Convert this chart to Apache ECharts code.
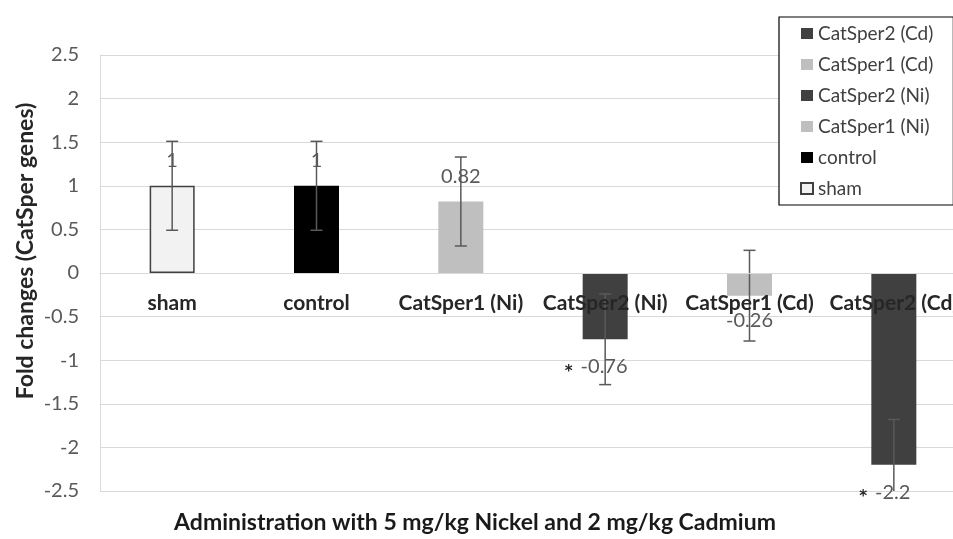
<!DOCTYPE html>
<html>
<head>
<meta charset="utf-8">
<script src="https://cdn.jsdelivr.net/npm/echarts@6/dist/echarts.min.js"></script>
<style>
html,body{margin:0;padding:0;background:#fff;}
#chart{width:953px;height:539px;}
</style>
</head>
<body>
<div id="chart"></div>
<script>
const categories = ['sham', 'control', 'CatSper1 (Ni)', 'CatSper2 (Ni)', 'CatSper1 (Cd)', 'CatSper2 (Cd)'];
const values = [1, 1, 0.82, -0.76, -0.26, -2.2];
const errors = [0.51, 0.51, 0.51, 0.52, 0.52, 0.52];
const marks = ['', '', '', '*', '', '*'];
const legendOrder = ['CatSper2 (Cd)', 'CatSper1 (Cd)', 'CatSper2 (Ni)', 'CatSper1 (Ni)', 'control', 'sham'];
const yMin = -2.5, yMax = 2.5, yStep = 0.5;
const yTitle = 'Fold changes (CatSper genes)';
const xTitle = 'Administration with 5 mg/kg Nickel and 2 mg/kg Cadmium';

const FONT = 'Lato';
const W = 953, H = 539;
const GRID = { left: 100, right: -13, top: 55, bottom: 48 };
const plotH = H - GRID.top - GRID.bottom;
const zeroOffset = -plotH * (0 - yMin) / (yMax - yMin);

const colors = {
  'sham': '#f2f2f2',
  'control': '#000000',
  'CatSper1 (Ni)': '#bfbfbf',
  'CatSper2 (Ni)': '#404040',
  'CatSper1 (Cd)': '#bfbfbf',
  'CatSper2 (Cd)': '#404040'
};

const chart = echarts.init(document.getElementById('chart'));

const barSeries = categories.map((name, i) => ({
  name: name,
  type: 'bar',
  stack: 'all',
  barWidth: 45,
  z: 2,
  itemStyle: name === 'sham'
    ? { color: colors[name], borderColor: '#404040', borderWidth: 1.5 }
    : { color: colors[name] },
  data: values.map((v, j) => j === i ? {
    value: v,
    label: {
      show: true,
      position: v >= 0 ? 'top' : 'bottom',
      distance: 15,
      offset: marks[j] ? [-9, 0] : [0, 0],
      formatter: marks[j] ? '{m|' + marks[j] + '}{v|' + v + '}' : '{v|' + v + '}',
      rich: {
        m: { fontFamily: 'DejaVu Sans', fontSize: 15, fontWeight: 'bold', color: '#262626', padding: [10, 8, 0, 0] },
        v: { fontFamily: FONT, fontSize: 20, color: '#595959' }
      }
    }
  } : '-')
}));

const errSeries = {
  name: 'error',
  type: 'custom',
  z: 4,
  data: values.map((v, i) => [i, v - errors[i], v + errors[i]]),
  encode: { x: 0, y: [1, 2] },
  renderItem: function (params, api) {
    const idx = api.value(0);
    const low = api.value(1), high = api.value(2);
    const lowC = Math.max(low, yMin);
    const pHi = api.coord([idx, high]);
    const pLo = api.coord([idx, lowC]);
    const cap = 6;
    const style = { stroke: '#595959', lineWidth: 1.5 };
    const children = [
      { type: 'line', shape: { x1: pHi[0], y1: pHi[1], x2: pLo[0], y2: pLo[1] }, style: style },
      { type: 'line', shape: { x1: pHi[0] - cap, y1: pHi[1], x2: pHi[0] + cap, y2: pHi[1] }, style: style }
    ];
    if (low >= yMin) {
      children.push({ type: 'line', shape: { x1: pLo[0] - cap, y1: pLo[1], x2: pLo[0] + cap, y2: pLo[1] }, style: style });
    }
    return { type: 'group', children: children };
  }
};

chart.setOption({
  animation: false,
  backgroundColor: '#ffffff',
  grid: {
    left: GRID.left, right: GRID.right, top: GRID.top, bottom: GRID.bottom,
    containLabel: false, outerBoundsMode: 'none'
  },
  legend: {
    data: legendOrder,
    orient: 'vertical',
    left: 779,
    top: 17,
    icon: 'rect',
    itemWidth: 12,
    itemHeight: 11,
    itemGap: 12,
    selectedMode: false,
    padding: [7, 20, 7, 21],
    borderColor: '#000',
    borderWidth: 1.2,
    backgroundColor: '#fff',
    textStyle: { fontFamily: FONT, fontSize: 19, color: '#404040' }
  },
  xAxis: {
    type: 'category',
    data: categories,
    z: 6,
    offset: zeroOffset,
    axisLine: { show: true, onZero: false, lineStyle: { color: '#d9d9d9', width: 1 } },
    axisTick: { show: false },
    axisLabel: { interval: 0, margin: 20, fontFamily: FONT, fontSize: 21, fontWeight: 'bold', color: '#262626', hideOverlap: false },
    splitLine: { show: false }
  },
  yAxis: {
    type: 'value',
    min: yMin,
    max: yMax,
    interval: yStep,
    axisLine: { show: true, lineStyle: { color: '#d9d9d9' } },
    axisTick: { show: false },
    axisLabel: { margin: 21, fontFamily: FONT, fontSize: 20, color: '#595959' },
    splitLine: { show: true, lineStyle: { color: '#d9d9d9', width: 1 } }
  },
  graphic: [
    {
      type: 'text', x: 26, y: 251, rotation: Math.PI / 2,
      style: { text: yTitle, fontFamily: FONT, fontSize: 23, fontWeight: 'bold', fill: '#262626', align: 'center', verticalAlign: 'middle' }
    },
    {
      type: 'text', x: 475, y: 523,
      style: { text: xTitle, fontFamily: FONT, fontSize: 23, fontWeight: 'bold', fill: '#1a1a1a', align: 'center', verticalAlign: 'middle' }
    }
  ],
  series: barSeries.concat([errSeries])
});
</script>
</body>
</html>
